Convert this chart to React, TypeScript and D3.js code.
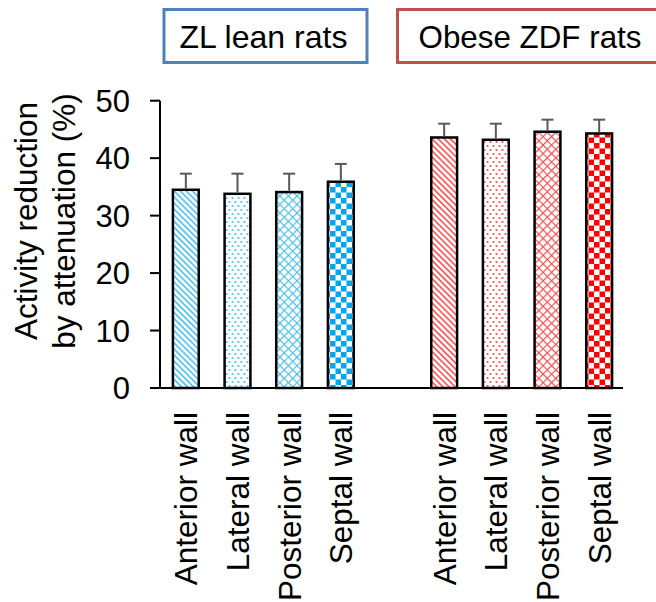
import React, { useRef, useEffect } from "react";
import * as d3 from "d3";

// bar categories (blank slot between the two groups)
const walls = ["Anterior wall", "Lateral wall", "Posterior wall", "Septal wall"];
const groups = ["ZL lean rats", "Obese ZDF rats"];
const leanMeans = [34.5, 33.8, 34.1, 35.9];
const leanSE = [2.8, 3.5, 3.2, 3.1];
const obeseMeans = [43.6, 43.2, 44.6, 44.3];
const obeseSE = [2.4, 2.8, 2.1, 2.4];
const yTicks = [0, 10, 20, 30, 40, 50];
const patternIds = ["diag", "dots", "cross", "check"];

const FONT = "'Liberation Sans', Arial, Helvetica, sans-serif";

const App = () => {
    const chartRef = useRef<SVGSVGElement>(null);

    useEffect(() => {
        drawChart();
    }, []);

    const drawChart = () => {
        if (!chartRef.current) return;
        const svg = d3.select(chartRef.current);
        svg.selectAll("*").remove();

        const data = [
            ...walls.map((w, i) => ({ key: "lean-" + i, name: w, group: 0, pat: i, mean: leanMeans[i], se: leanSE[i] })),
            ...walls.map((w, i) => ({ key: "obese-" + i, name: w, group: 1, pat: i, mean: obeseMeans[i], se: obeseSE[i] })),
        ];
        const domain = [...data.slice(0, 4).map((d) => d.key), "gap", ...data.slice(4).map((d) => d.key)];

        const x = d3.scaleBand().domain(domain).range([160, 625]).paddingInner(0.5).paddingOuter(0.25);
        const y = d3.scaleLinear().domain([0, 50]).range([388, 100.7]);

        // patterns
        const defs = svg.append("defs");
        const colors = [
            { light: "#45bff2", strong: "#00a6ee" },
            { light: "#ff4a4a", strong: "#ff0000" },
        ];
        colors.forEach((c, g) => {
            const diag = defs.append("pattern").attr("id", `diag-${g}`).attr("patternUnits", "userSpaceOnUse")
                .attr("width", 4.3).attr("height", 4.3).attr("patternTransform", "rotate(-45)");
            diag.append("rect").attr("width", 4.3).attr("height", 4.3).attr("fill", "#fff");
            diag.append("line").attr("x1", 1).attr("x2", 1).attr("y1", 0).attr("y2", 4.3)
                .attr("stroke", c.light).attr("stroke-width", 1.6);

            const dots = defs.append("pattern").attr("id", `dots-${g}`).attr("patternUnits", "userSpaceOnUse")
                .attr("width", 6).attr("height", 8);
            dots.append("rect").attr("width", 6).attr("height", 8).attr("fill", "#fff");
            dots.append("circle").attr("cx", 1.5).attr("cy", 2).attr("r", 1.1).attr("fill", c.light);
            dots.append("circle").attr("cx", 4.5).attr("cy", 6).attr("r", 1.1).attr("fill", c.light);

            const cross = defs.append("pattern").attr("id", `cross-${g}`).attr("patternUnits", "userSpaceOnUse")
                .attr("width", 6).attr("height", 6).attr("patternTransform", "rotate(45)");
            cross.append("rect").attr("width", 6).attr("height", 6).attr("fill", "#fff");
            cross.append("line").attr("x1", 0).attr("x2", 6).attr("y1", 0.5).attr("y2", 0.5)
                .attr("stroke", c.light).attr("stroke-width", 1.3);
            cross.append("line").attr("x1", 0.5).attr("x2", 0.5).attr("y1", 0).attr("y2", 6)
                .attr("stroke", c.light).attr("stroke-width", 1.3);

            const check = defs.append("pattern").attr("id", `check-${g}`).attr("patternUnits", "userSpaceOnUse")
                .attr("width", 11).attr("height", 11);
            check.append("rect").attr("width", 11).attr("height", 11).attr("fill", "#fff");
            check.append("rect").attr("width", 5.5).attr("height", 5.5).attr("fill", c.strong);
            check.append("rect").attr("x", 5.5).attr("y", 5.5).attr("width", 5.5).attr("height", 5.5).attr("fill", c.strong);
        });

        // legend boxes
        const legendBoxes = [
            { x: 164, w: 203, stroke: "#4f81bd", textX: 179.5, len: 168 },
            { x: 397.5, w: 275, stroke: "#c0504d", textX: 418.5, len: 223 },
        ];
        legendBoxes.forEach((b, i) => {
            svg.append("rect").attr("x", b.x).attr("y", 9.5).attr("width", b.w).attr("height", 53)
                .attr("fill", "#fff").attr("stroke", b.stroke).attr("stroke-width", 3);
            svg.append("text").attr("x", b.textX).attr("y", 48.3)
                .attr("font-family", FONT).attr("font-size", 31.5).attr("fill", "#000")
                .attr("textLength", b.len).attr("lengthAdjust", "spacingAndGlyphs")
                .text(groups[i]);
        });

        // y axis
        svg.append("line").attr("x1", 160).attr("x2", 160).attr("y1", y(50)).attr("y2", y(0))
            .attr("stroke", "#000").attr("stroke-width", 2);
        const yt = svg.append("g").selectAll("g").data(yTicks).enter().append("g");
        yt.append("line").attr("x1", 150).attr("x2", 160).attr("y1", (d) => y(d)).attr("y2", (d) => y(d))
            .attr("stroke", "#000").attr("stroke-width", 2);
        yt.append("text").attr("x", 130).attr("y", (d) => y(d)).attr("dy", "0.36em")
            .attr("text-anchor", "end").attr("font-family", FONT).attr("font-size", 31).text((d) => d);

        // y title
        const yTitle = svg.append("text").attr("transform", "translate(0,221) rotate(-90)")
            .attr("text-anchor", "middle").attr("font-family", FONT).attr("font-size", 31.5);
        yTitle.append("tspan").attr("x", 0).attr("y", 37).text("Activity reduction");
        yTitle.append("tspan").attr("x", 0).attr("y", 75).text("by attenuation (%)");

        // bars
        svg.selectAll(".bar").data(data).enter().append("rect").attr("class", "bar")
            .attr("x", (d) => x(d.key)!)
            .attr("y", (d) => y(d.mean))
            .attr("width", x.bandwidth())
            .attr("height", (d) => y(0) - y(d.mean))
            .attr("fill", (d) => `url(#${patternIds[d.pat]}-${d.group})`)
            .attr("stroke", "#000").attr("stroke-width", 2.5);

        // error bars (upper only)
        const err = svg.selectAll(".err").data(data).enter().append("g").attr("class", "err")
            .attr("stroke", "#595959").attr("stroke-width", 2);
        err.append("line")
            .attr("x1", (d) => x(d.key)! + x.bandwidth() / 2).attr("x2", (d) => x(d.key)! + x.bandwidth() / 2)
            .attr("y1", (d) => y(d.mean) - 1.2).attr("y2", (d) => y(d.mean + d.se));
        err.append("line")
            .attr("x1", (d) => x(d.key)! + x.bandwidth() / 2 - 6).attr("x2", (d) => x(d.key)! + x.bandwidth() / 2 + 6)
            .attr("y1", (d) => y(d.mean + d.se)).attr("y2", (d) => y(d.mean + d.se));

        // x axis
        svg.append("line").attr("x1", 159).attr("x2", 623).attr("y1", y(0)).attr("y2", y(0))
            .attr("stroke", "#000").attr("stroke-width", 2);

        // category labels
        svg.selectAll(".xlab").data(data).enter().append("text").attr("class", "xlab")
            .attr("transform", (d) => `translate(${x(d.key)! + x.bandwidth() / 2},412) rotate(-90)`)
            .attr("dy", "0.36em").attr("text-anchor", "end")
            .attr("font-family", FONT).attr("font-size", 31.5).text((d) => d.name);
    };

    return (
        <svg ref={chartRef} width={656} height={602}
            style={{ position: "absolute", left: 0, top: 0, background: "#fff", display: "block" }} />
    );
};

export default App;
